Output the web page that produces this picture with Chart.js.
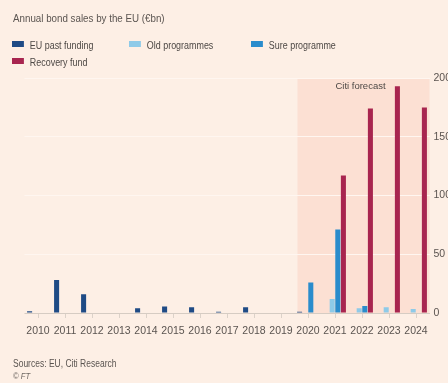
<!DOCTYPE html>
<html>
<head>
<meta charset="utf-8">
<script src="https://cdn.jsdelivr.net/npm/chart.js@4"></script>
<style>
  html, body { margin: 0; padding: 0; width: 448px; height: 383px; overflow: hidden; background: #fdefe5; }
  body { position: relative; font-family: "Liberation Sans", sans-serif; color: #4d4845; }
  #wrap { position: absolute; left: 0; top: 0; width: 470px; height: 383px; }
  .narrow { position: absolute; white-space: nowrap; transform: scaleX(0.85); transform-origin: 0 0; }
  #title { left: 13px; top: 12px; font-size: 11.5px; color: #5a5450; }
  .item { font-size: 10.5px; line-height: 12px; color: #4d4845; }
  .item span.box { display: inline-block; width: 14px; height: 6px; margin-right: 7px; vertical-align: 2px; }
  #source { left: 13px; top: 358px; font-size: 10px; color: #5a5450; }
  #ft { left: 13px; top: 371px; font-size: 9px; font-style: italic; color: #6f6863; }
</style>
</head>
<body>
<div id="wrap"><canvas id="chart"></canvas></div>
<div id="title" class="narrow">Annual bond sales by the EU (€bn)</div>
<div id="legend"></div>
<div id="source" class="narrow">Sources: EU, Citi Research</div>
<div id="ft" class="narrow">© FT</div>
<script>
const years = ["2010", "2011", "2012", "2013", "2014", "2015", "2016", "2017", "2018", "2019", "2020", "2021", "2022", "2023", "2024"];
const euPastFunding = [1.5, 28, 16, 0, 4, 5.5, 5, 1, 5, 0, 1, 0, 0, 0, 0];
const oldProgrammes = [0, 0, 0, 0, 0, 0, 0, 0, 0, 0, 0, 12, 4, 5, 3.5];
const sureProgramme = [0, 0, 0, 0, 0, 0, 0, 0, 0, 0, 26, 71, 6, 0, 0];
const recoveryFund = [0, 0, 0, 0, 0, 0, 0, 0, 0, 0, 0, 117, 174, 193, 175];
const yTicks = [0, 50, 100, 150, 200];
const forecastFrom = "2020";
const forecastLabel = "Citi forecast";

const seriesNames = ["EU past funding", "Old programmes", "Sure programme", "Recovery fund"];
const seriesColors = ["#1f4b85", "#8ecae8", "#2a8ccc", "#a8254f"];
const seriesData = [euPastFunding, oldProgrammes, sureProgramme, recoveryFund];

const FONT = '"Liberation Sans", sans-serif';

// html legend, laid out like the FT grid
const legendPos = [[12, 39], [129, 39], [251, 39], [12, 56]];
seriesNames.forEach(function (name, i) {
  const el = document.createElement("div");
  el.className = "narrow item";
  el.style.left = legendPos[i][0] + "px";
  el.style.top = legendPos[i][1] + "px";
  el.innerHTML = '<span class="box" style="background:' + seriesColors[i] + '"></span>' + name;
  document.body.appendChild(el);
});

const forecastShade = {
  id: "forecastShade",
  beforeDraw(chart) {
    const { ctx, chartArea, scales } = chart;
    const i = years.indexOf(forecastFrom);
    const x0 = (scales.x.getPixelForValue(i - 1) + scales.x.getPixelForValue(i)) / 2 + 3;
    ctx.save();
    ctx.fillStyle = "#fce0d3";
    ctx.fillRect(x0, chartArea.top, chartArea.right - x0, chartArea.bottom - chartArea.top);
    ctx.fillStyle = "#4d4845";
    ctx.font = "9.5px " + FONT;
    ctx.textAlign = "center";
    ctx.textBaseline = "middle";
    ctx.fillText(forecastLabel, x0 + 63, chartArea.top + 8);
    ctx.restore();
  },
};

const datasets = seriesNames.map(function (name, i) {
  return {
    label: name,
    data: seriesData[i],
    backgroundColor: seriesColors[i],
    categoryPercentage: 0.83,
    barPercentage: 0.9,
  };
});

new Chart(document.getElementById("chart"), {
  type: "bar",
  data: { labels: years, datasets: datasets },
  plugins: [forecastShade],
  options: {
    responsive: true,
    maintainAspectRatio: false,
    animation: false,
    layout: { padding: { top: 78, left: 24.5, right: 0, bottom: 0 } },
    plugins: { legend: { display: false }, tooltip: { enabled: false } },
    scales: {
      x: {
        grid: { offset: false, drawOnChartArea: false, tickLength: 5, color: "#dcd2c9" },
        border: { display: false },
        ticks: {
          padding: 7,
          color: "#5a5450",
          font: { family: FONT, size: 10.5 },
          maxRotation: 0,
          autoSkip: false,
        },
        afterFit(scale) { scale.height = 70; },
      },
      y: {
        position: "right",
        min: 0,
        max: 200,
        afterBuildTicks(scale) { scale.ticks = yTicks.map(function (v) { return { value: v }; }); },
        grid: {
          drawTicks: false,
          color: function (c) { return c.tick && c.tick.value === 0 ? "#d6ccc3" : "#fff6f0"; },
        },
        border: { display: false },
        ticks: {
          padding: 4,
          color: "#5a5450",
          font: { family: FONT, size: 10.5 },
        },
        afterFit(scale) { scale.width = 40.5; },
      },
    },
  },
});
</script>
</body>
</html>
